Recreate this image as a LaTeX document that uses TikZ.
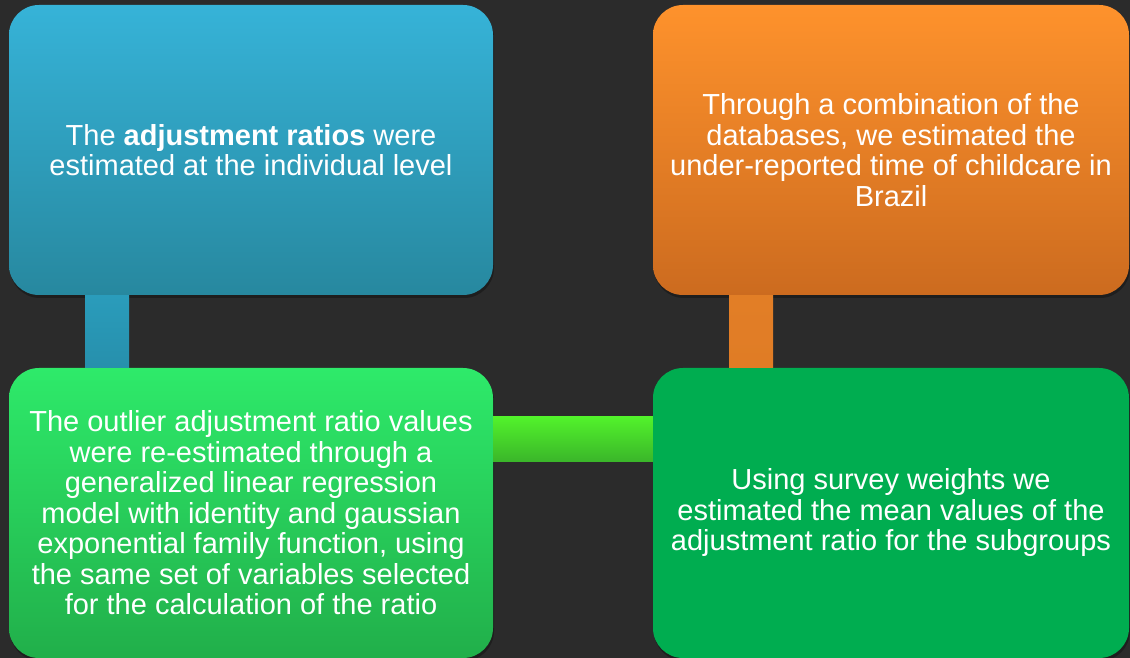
\documentclass[tikz,border=0pt]{standalone}
\usepackage{fontspec}
\setmainfont{Liberation Sans}
\usetikzlibrary{positioning,shadows}
\definecolor{bg}{HTML}{2B2B2B}
\definecolor{bluetop}{HTML}{36B3D8}
\definecolor{bluebot}{HTML}{27889F}
\definecolor{bluebar}{HTML}{2A9CBB}
\definecolor{orgtop}{HTML}{FE922C}
\definecolor{orgbot}{HTML}{CC6B1F}
\definecolor{orgbar}{HTML}{E27E26}
\definecolor{grntop}{HTML}{2EEA6A}
\definecolor{grnbot}{HTML}{21AF4A}
\definecolor{grnflat}{HTML}{00AD50}
\definecolor{limetop}{HTML}{52F22B}
\definecolor{limebot}{HTML}{3AB52A}

\begin{document}
\begin{tikzpicture}[x=1pt, y=1pt,
  every node/.style = {shape=rectangle, rounded corners=30pt,
    align=center, text=white, inner sep=0pt,
    font=\fontsize{29}{30.5}\selectfont,
    drop shadow={opacity=0.3, fill=black, shadow xshift=1pt, shadow yshift=-3pt}},
  stepbox/.style = {minimum width=484pt, minimum height=290pt},
  widebox/.style = {minimum width=476pt, minimum height=290pt}]
  \fill[bg] (0,0) rectangle (1130,658);
  \useasboundingbox (0,0) rectangle (1130,658);
  \node[stepbox, top color=bluetop, bottom color=bluebot] (ratios) at (251,508)
    {The \textbf{adjustment ratios} were\\estimated at the individual level};
  \node[stepbox, top color=grntop, bottom color=grnbot] (outlier) at (251,145)
    {The outlier adjustment ratio values\\were re-estimated through a\\generalized linear regression\\model with identity and gaussian\\exponential family function, using\\the same set of variables selected\\for the calculation of the ratio};
  \node[widebox, fill=grnflat] (weights) at (891,145)
    {Using survey weights we\\estimated the mean values of the\\adjustment ratio for the subgroups};
  \node[widebox, top color=orgtop, bottom color=orgbot] (combine) at (891,508)
    {Through a combination of the\\databases, we estimated the\\under-reported time of childcare in\\Brazil};
  \shade[top color=bluebar, bottom color=bluebar!92!black]
    ([xshift=-166pt]ratios.south) rectangle ([xshift=-122pt]outlier.north);
  \shade[top color=orgbar, bottom color=orgbar!90!orgbot]
    ([xshift=-162pt]combine.south) rectangle ([xshift=-118pt]weights.north);
  \shade[top color=limetop, bottom color=limebot]
    ([yshift=96pt]outlier.east) rectangle ([yshift=51pt]weights.west);
\end{tikzpicture}
\end{document}
